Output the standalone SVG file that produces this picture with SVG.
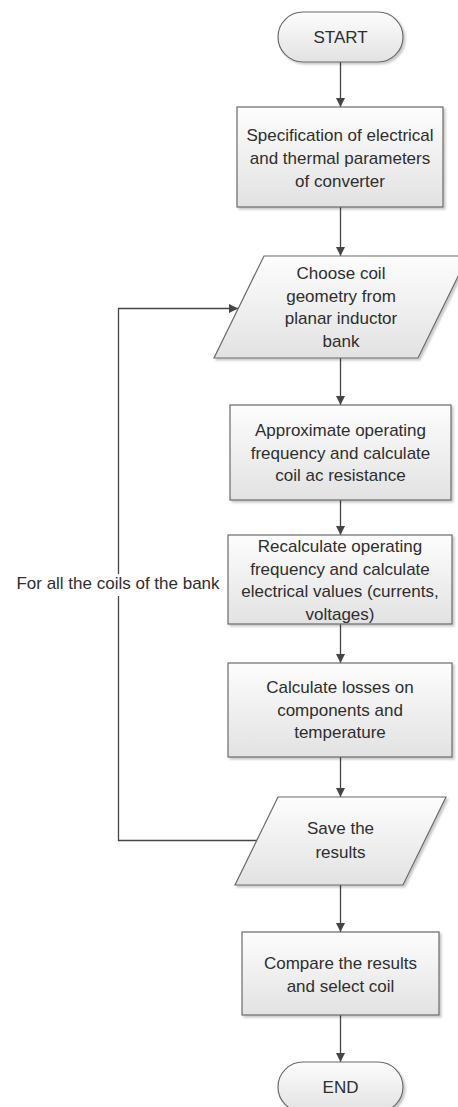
<svg xmlns="http://www.w3.org/2000/svg" width="458" height="1107" viewBox="0 0 458 1107">
<style>
  .shape { fill: url(#g); stroke: #6a6a6a; stroke-width: 1.2; filter: url(#sh); }
  .t { font-family: "Liberation Sans", Arial, sans-serif; font-size: 17px; fill: #2e2e2e; text-anchor: middle; }
  .c { fill: none; stroke: #454545; stroke-width: 1.3; }
</style>
<defs>
  <linearGradient id="g" x1="0" y1="0" x2="0" y2="1">
    <stop offset="0" stop-color="#fdfdfd"/>
    <stop offset="1" stop-color="#e2e2e2"/>
  </linearGradient>
  <filter id="sh" x="-10%" y="-10%" width="130%" height="130%">
    <feDropShadow dx="2" dy="2" stdDeviation="1.2" flood-color="#000" flood-opacity="0.22"/>
  </filter>
  <marker id="arr" viewBox="0 0 10 10" refX="10" refY="5" markerWidth="9" markerHeight="9" markerUnits="userSpaceOnUse" orient="auto">
    <path d="M0,0 L10,5 L0,10 z" fill="#454545"/>
  </marker>
</defs>

<g id="connectors">
  <line class="c" x1="340.5" y1="62" x2="340.5" y2="107" marker-end="url(#arr)"/>
  <line class="c" x1="340.5" y1="207" x2="340.5" y2="256" marker-end="url(#arr)"/>
  <line class="c" x1="340.5" y1="358" x2="340.5" y2="405" marker-end="url(#arr)"/>
  <line class="c" x1="340.5" y1="500" x2="340.5" y2="535" marker-end="url(#arr)"/>
  <line class="c" x1="340.5" y1="624" x2="340.5" y2="663" marker-end="url(#arr)"/>
  <line class="c" x1="340.5" y1="757" x2="340.5" y2="797" marker-end="url(#arr)"/>
  <line class="c" x1="340.5" y1="885" x2="340.5" y2="932" marker-end="url(#arr)"/>
  <line class="c" x1="340.5" y1="1015" x2="340.5" y2="1062" marker-end="url(#arr)"/>
  <path class="c" d="M257,840.5 H118.5 V308.5 H238" marker-end="url(#arr)"/>
  <g id="loop-label">
    <rect x="12" y="574" width="212" height="22" fill="#ffffff"/>
    <text class="t" x="118" y="589">For all the coils of the bank</text>
  </g>
</g>

<g id="start">
  <rect class="shape" x="278" y="12" width="125" height="50" rx="25" ry="25"/>
  <text class="t" x="340.5" y="43">START</text>
</g>

<g id="spec">
  <rect class="shape" x="237" y="107" width="206" height="100"/>
  <text class="t" x="340" y="141">Specification of electrical</text>
  <text class="t" x="340" y="164">and thermal parameters</text>
  <text class="t" x="340" y="187">of converter</text>
</g>

<g id="choose">
  <polygon class="shape" points="264,256 468,256 418,358 214,358"/>
  <text class="t" x="341" y="279">Choose coil</text>
  <text class="t" x="341" y="301.5">geometry from</text>
  <text class="t" x="341" y="324">planar inductor</text>
  <text class="t" x="341" y="346.5">bank</text>
</g>

<g id="approx">
  <rect class="shape" x="230" y="405" width="221" height="95"/>
  <text class="t" x="340.5" y="436">Approximate operating</text>
  <text class="t" x="340.5" y="458.5">frequency and calculate</text>
  <text class="t" x="340.5" y="481">coil ac resistance</text>
</g>

<g id="recalc">
  <rect class="shape" x="228" y="535" width="224" height="89"/>
  <text class="t" x="340" y="552">Recalculate operating</text>
  <text class="t" x="340" y="574.5">frequency and calculate</text>
  <text class="t" x="340" y="597">electrical values (currents,</text>
  <text class="t" x="340" y="619.5">voltages)</text>
</g>

<g id="losses">
  <rect class="shape" x="228" y="663" width="224" height="94"/>
  <text class="t" x="340" y="693">Calculate losses on</text>
  <text class="t" x="340" y="715.5">components and</text>
  <text class="t" x="340" y="738">temperature</text>
</g>

<g id="save">
  <polygon class="shape" points="278,797 446,797 403,885 235,885"/>
  <text class="t" x="340.5" y="834">Save the</text>
  <text class="t" x="340.5" y="857.5">results</text>
</g>

<g id="compare">
  <rect class="shape" x="242" y="932" width="197" height="83"/>
  <text class="t" x="340.5" y="969">Compare the results</text>
  <text class="t" x="340.5" y="991.5">and select coil</text>
</g>

<g id="end">
  <rect class="shape" x="278" y="1062" width="125" height="50" rx="25" ry="25"/>
  <text class="t" x="340.5" y="1093">END</text>
</g>
</svg>
